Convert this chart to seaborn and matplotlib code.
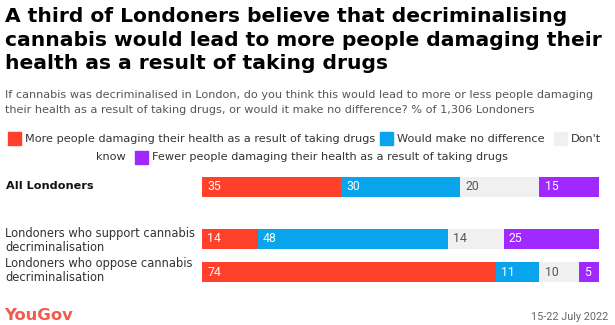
import matplotlib
matplotlib.use("Agg")
import matplotlib.pyplot as plt
import seaborn as sns
import numpy as np
from matplotlib.patches import Rectangle

# ---- data ----
groups = ["All Londoners",
          "Londoners who support cannabis\ndecriminalisation",
          "Londoners who oppose cannabis\ndecriminalisation"]
series = ["More people damaging their health as a result of taking drugs",
          "Would make no difference",
          "Don't know",
          "Fewer people damaging their health as a result of taking drugs"]
more_people = [35, 14, 74]
no_difference = [30, 48, 11]
dont_know = [20, 14, 10]
fewer_people = [15, 25, 5]

values = [more_people, no_difference, dont_know, fewer_people]
colors = ["#FF412C", "#09A5EC", "#F0F0F0", "#9F29FF"]
text_colors = ["white", "white", "#555555", "white"]

sns.set_theme(style="white")
plt.rcParams["font.family"] = ["DejaVu Sans"]
BODY = ["DejaVu Sans"]
NUM = ["Roboto", "DejaVu Sans"]

W, H = 615, 325
fig = plt.figure(figsize=(W / 100, H / 100), dpi=100)

def fx(px):
    return px / W

def fy(py):
    return 1 - py / H

# axes placement
ax_top, ax_bot = 170, 290
ax = fig.add_axes([fx(202), fy(ax_bot), fx(599) - fx(202), (ax_bot - ax_top) / H])
unit = 33.0
ypos = [0, 52 / unit, 85 / unit]
ax.set_xlim(0, 100)
top_lim = -(187 - ax_top) / unit
ax.set_ylim(top_lim + (ax_bot - ax_top) / unit, top_lim)
ax.axis("off")

pal = sns.color_palette(colors)
left = np.zeros(len(groups))
for vals, c, tc in zip(values, pal, text_colors):
    vals = np.array(vals, dtype=float)
    ax.barh(ypos, vals, left=left, height=20 / unit, color=c, edgecolor="none")
    for y, l, v in zip(ypos, left, vals):
        ax.text(l + 1.3, y, f"{int(v)}", ha="left", va="center",
                color=tc, fontsize=8.8, family=NUM)
    left += vals

# row labels
FS = 8.1
fig.text(fx(6), fy(189), groups[0], fontsize=FS, fontweight="bold",
         color="#111111", ha="left", va="baseline", family=BODY)
lab_lines = [("Londoners who support cannabis", 237), ("decriminalisation", 251),
             ("Londoners who oppose cannabis", 267), ("decriminalisation", 281)]
for t, y in lab_lines:
    fig.text(fx(5), fy(y), t, fontsize=FS + 0.2, color="#333333",
             ha="left", va="baseline", family=BODY)

# title
title_lines = ["A third of Londoners believe that decriminalising",
               "cannabis would lead to more people damaging their",
               "health as a result of taking drugs"]
for i, t in enumerate(title_lines):
    fig.text(fx(5), fy(22 + i * 23.5), t, fontsize=14.6, fontweight="bold",
             color="#000000", ha="left", va="baseline", family=BODY)

# subtitle
fig.text(fx(5), fy(98),
         "If cannabis was decriminalised in London, do you think this would lead to more or less people damaging",
         fontsize=FS, color="#555555", ha="left", va="baseline", family=BODY)
fig.text(fx(5), fy(113),
         "their health as a result of taking drugs, or would it make no difference? % of 1,306 Londoners",
         fontsize=FS, color="#555555", ha="left", va="baseline", family=BODY)

# legend
def legend_item(x_sq, y_c, color, label):
    fig.patches.append(Rectangle((fx(x_sq), fy(y_c + 6.5)), 13 / W, 13 / H,
                                 transform=fig.transFigure, color=color,
                                 figure=fig))
    if label:
        fig.text(fx(x_sq + 17), fy(y_c), label, fontsize=FS, color="#333333",
                 ha="left", va="center", family=BODY)

legend_item(8, 139, colors[0], series[0])
legend_item(380, 139, colors[1], series[1])
legend_item(554, 139, colors[2], "Don't")
fig.text(fx(96), fy(157), "know", fontsize=FS, color="#333333",
         ha="left", va="center", family=BODY)
legend_item(135, 157, colors[3], series[3])

# footer
fig.text(fx(4), fy(320), "YouGov", fontsize=11.8, fontweight="bold",
         color="#F25A4C", ha="left", va="baseline", family=BODY)
fig.text(fx(608), fy(320), "15-22 July 2022", fontsize=7.8, color="#666666",
         ha="right", va="baseline", family=NUM)

fig.savefig("out.png", dpi=100)
